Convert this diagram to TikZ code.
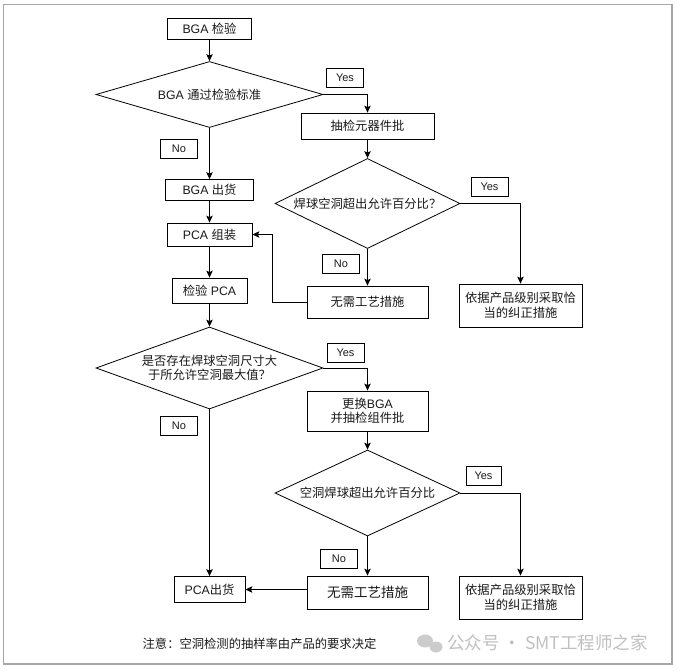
\documentclass[tikz,border=0pt]{standalone}
\usepackage{fontspec}
\setmainfont{Liberation Sans}
\newfontfamily\cjk{Noto Sans CJK SC}
\usetikzlibrary{shapes.geometric,arrows.meta}
\begin{document}
\begin{tikzpicture}[x=1pt,y=-1pt,
  every node/.style={font=\fontsize{12.3}{14.5}\selectfont, text=black!90},
  box/.style={draw, line width=0.8pt, inner sep=0pt, align=center},
  lbl/.style={draw, line width=0.8pt, inner sep=0pt, minimum width=37pt, minimum height=19pt, font=\fontsize{11}{12}\selectfont},
  dia/.style={draw, diamond, line width=0.8pt, inner sep=0pt, align=center},
  arr/.style={-{Stealth[length=7pt,width=6.5pt,inset=1.5pt]}, line width=0.8pt}]
\useasboundingbox (0,0) rectangle (677,670);
\draw[gray!70, line width=1.3pt] (3.5,4.5) rectangle (672,664);

% left column
\node[box, minimum width=84pt, minimum height=21pt] (b1) at (209.5,28.5) {BGA {\cjk 检验}};
\node[dia, minimum width=227pt, minimum height=66pt, aspect=3.4] (d1) at (209.5,94.5) {BGA {\cjk 通过检验标准}};
\node[box, minimum width=88pt, minimum height=21pt] (b3) at (209.5,190) {BGA {\cjk 出货}};
\node[box, minimum width=85pt, minimum height=23pt] (b4) at (209.5,234.5) {PCA {\cjk 组装}};
\node[box, minimum width=75pt, minimum height=25pt] (b5) at (209.5,290.5) {{\cjk 检验} PCA};
\node[dia, minimum width=227pt, minimum height=82pt, aspect=2.77] (d3) at (209.5,368) {{\cjk 是否存在焊球空洞尺寸大}\\{\cjk 于所允许空洞最大值？}};
\node[box, minimum width=71pt, minimum height=26pt] (b11) at (209.5,589.5) {PCA{\cjk 出货}};

% middle column
\node[box, minimum width=133pt, minimum height=26pt] (b2) at (367.5,126) {\cjk 抽检元器件批};
\node[dia, minimum width=185pt, minimum height=90pt, aspect=2.05] (d2) at (367.5,203.5) {\cjk 焊球空洞超出允许百分比？};
\node[box, minimum width=121pt, minimum height=32pt] (b6) at (367.5,302) {\cjk 无需工艺措施};
\node[box, minimum width=121pt, minimum height=40pt] (b8) at (367.5,411) {{\cjk 更换}BGA\\{\cjk 并抽检组件批}};
\node[dia, minimum width=185pt, minimum height=86pt, aspect=2.15] (d4) at (367.5,493) {\cjk 空洞焊球超出允许百分比};
\node[box, minimum width=121pt, minimum height=33pt, font=\fontsize{13.5}{15}\selectfont] (b9) at (367.5,592.5) {\cjk 无需工艺措施};

% right column
\node[box, minimum width=123pt, minimum height=43pt] (b7) at (520.5,305.5) {{\cjk 依据产品级别采取恰}\\{\cjk 当的纠正措施}};
\node[box, minimum width=123pt, minimum height=43pt] (b10) at (520.5,597.5) {{\cjk 依据产品级别采取恰}\\{\cjk 当的纠正措施}};

% labels
\node[lbl] (y1) at (345,77.5) {Yes};
\node[lbl] (n1) at (179,148.5) {No};
\node[lbl] (y2) at (489.5,187) {Yes};
\node[lbl] (n2) at (341,263.5) {No};
\node[lbl] (y3) at (345.5,353) {Yes};
\node[lbl] (n3) at (179,426) {No};
\node[lbl, minimum width=35pt] (y4) at (483.5,476) {Yes};
\node[lbl] (n4) at (339,558.5) {No};

% connectors
\draw[arr] (b1) -- (d1);
\draw[arr] (d1.east) -| (b2.north);
\draw[arr] (d1) -- (b3);
\draw[arr] (b2) -- (d2);
\draw[arr] (d2.east) -| (b7.north);
\draw[arr] (d2) -- (b6);
\draw[arr] (b6.west) -- ++(-34,0) |- (b4.east);
\draw[arr] (b3) -- (b4);
\draw[arr] (b4) -- (b5);
\draw[arr] (b5) -- (d3);
\draw[arr] (d3.east) -| (b8.north);
\draw[arr] (d3) -- (b11);
\draw[arr] (b8) -- (d4);
\draw[arr] (d4.east) -| (b10.north);
\draw[arr] (d4) -- (b9);
\draw[arr] (b9.west |- b11.east) -- (b11.east);

% note
\node (note) at (259.5,644) {\cjk 注意：空洞检测的抽样率由产品的要求决定};

% watermark
\fill[gray!40] (425,641) ellipse (8pt and 6.5pt);
\fill[gray!40] (436,647) ellipse (6.5pt and 5.5pt);
\node[font=\fontsize{17.5}{18}\selectfont, text=gray!50, anchor=west, inner sep=0pt] (wm) at (447,643) {\cjk 公众号 · SMT工程师之家};
\end{tikzpicture}
\end{document}
